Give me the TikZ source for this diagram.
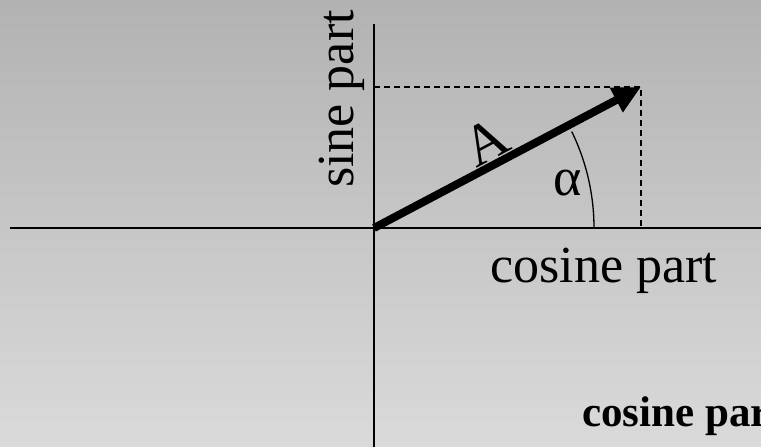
\documentclass[tikz,border=0pt]{standalone}
\usepackage{fontspec}
\setmainfont{Liberation Serif}
\usetikzlibrary{arrows.meta}
\definecolor{BgTop}{RGB}{178,178,178}
\definecolor{BgBottom}{RGB}{218,218,218}

\begin{document}
\begin{tikzpicture}[x=1pt,y=1pt,line join=round,
    lbl/.style={font=\fontsize{52}{60}\selectfont,inner sep=0pt}]
  \shade[top color=BgTop,bottom color=BgBottom] (0,0) rectangle (761,447);
  \useasboundingbox (0,0) rectangle (761,447);
  \clip (0,0) rectangle (761,447);
  \coordinate (O) at (374,219);
  \coordinate (P) at (641,360);
  \coordinate (xL) at (10,219);
  \coordinate (xR) at (761,219);
  \coordinate (yT) at (374,423);
  \coordinate (yB) at (374,0);
  \draw[line width=1.6pt] (xL) -- (xR);
  \draw[line width=1.6pt] (yT) -- (yB);
  \draw[line width=1.6pt,dash pattern=on 6pt off 4pt] (O |- P) -- (P) -- (P |- O);
  \draw[line width=1.3pt] ([xshift=220pt]O) arc[start angle=0,end angle=26,radius=220];
  \draw[line width=8pt,-{Triangle[length=28pt,width=26pt]}] (O) -- (P);
  \node[lbl,rotate=90,anchor=base] (sineLbl) at (353,348) {sine part};
  \node[lbl,font=\fontsize{58}{66}\selectfont,rotate=28,anchor=base] (ampLbl) at (495,288) {A};
  \node[lbl,font=\fontsize{54}{62}\selectfont,anchor=base] (alphaLbl) at (568,251) {α};
  \node[lbl,anchor=base] (cosLbl) at (604,164) {cosine part};
  \node[lbl,font=\fontsize{43}{50}\selectfont\bfseries,anchor=base west] (cosBold) at (582,20) {cosine part};
\end{tikzpicture}
\end{document}
